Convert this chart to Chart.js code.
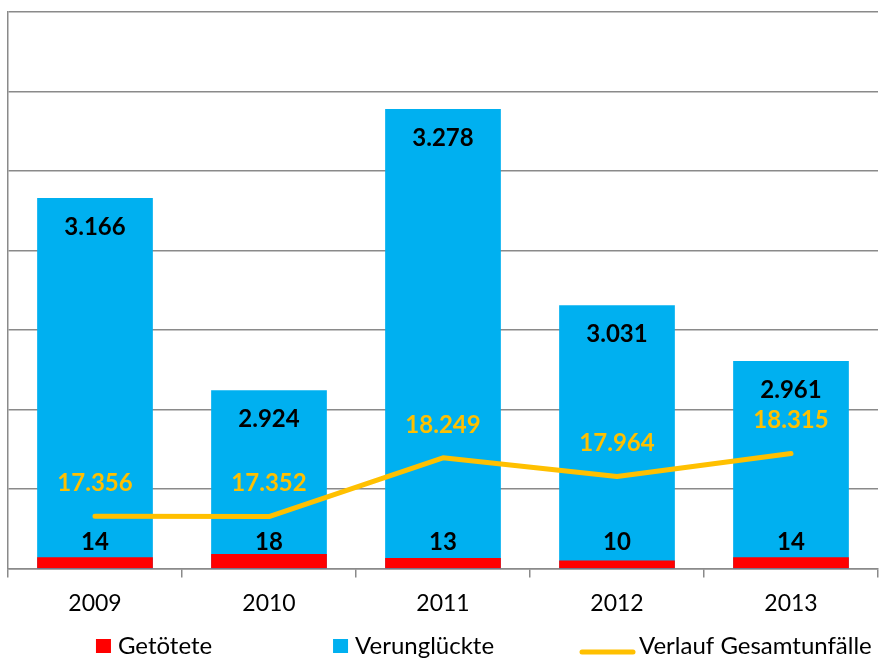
<!DOCTYPE html>
<html>
<head>
<meta charset="utf-8">
<script src="https://cdn.jsdelivr.net/npm/chart.js@4"></script>
<style>
  html, body { margin: 0; padding: 0; background: #fff; }
  #wrap { width: 882px; height: 661px; position: relative; }
</style>
</head>
<body>
<div id="wrap"><canvas id="c" width="882" height="661"></canvas></div>
<script>
const categories = ['2009', '2010', '2011', '2012', '2013'];
const getoetete = [14, 18, 13, 10, 14];
const verunglueckte = [3166, 2924, 3278, 3031, 2961];
const gesamtunfaelle = [17356, 17352, 18249, 17964, 18315];
const seriesNames = ['Getötete', 'Verunglückte', 'Verlauf Gesamtunfälle'];

const RED = '#FF0000', BLUE = '#00B0F0', GOLD = '#FFC000', GRID = '#8a8a8a';

function fmt(n) {
  return String(n).replace(/\B(?=(\d{3})+(?!\d))/g, '.');
}

const labelPlugin = {
  id: 'valueLabels',
  afterDatasetsDraw(chart) {
    const ctx = chart.ctx;
    ctx.save();
    ctx.textAlign = 'center';
    ctx.textBaseline = 'middle';
    ctx.font = 'bold 24px Lato';
    const mb = chart.getDatasetMeta(1);
    ctx.fillStyle = '#000';
    mb.data.forEach((el, i) => ctx.fillText(fmt(verunglueckte[i]), el.x, el.y + 29));
    const mr = chart.getDatasetMeta(0);
    mr.data.forEach((el, i) => ctx.fillText(fmt(getoetete[i]), el.x, el.base - 26));
    const ml = chart.getDatasetMeta(2);
    ctx.fillStyle = GOLD;
    ml.data.forEach((el, i) => ctx.fillText(fmt(gesamtunfaelle[i]), el.x, el.y - 33));
    ctx.restore();
  }
};

const legendPlugin = {
  id: 'customLegend',
  afterDraw(chart) {
    const ctx = chart.ctx;
    const W = chart.width;
    ctx.save();
    ctx.font = '24px Lato';
    ctx.textBaseline = 'middle';
    ctx.textAlign = 'left';
    const y = 646;
    let x = W * 0.1088;
    ctx.fillStyle = RED;
    ctx.fillRect(x, y - 7, 15, 14);
    ctx.fillStyle = '#000';
    ctx.fillText(seriesNames[0], x + 22, y);
    x = W * 0.3776;
    ctx.fillStyle = BLUE;
    ctx.fillRect(x, y - 7, 15, 14);
    ctx.fillStyle = '#000';
    ctx.fillText(seriesNames[1], x + 22, y);
    x = W * 0.6576;
    ctx.strokeStyle = GOLD;
    ctx.lineWidth = 5;
    ctx.lineCap = 'round';
    ctx.beginPath();
    ctx.moveTo(x + 2, y + 6);
    ctx.lineTo(x + 53, y + 6);
    ctx.stroke();
    ctx.fillStyle = '#000';
    ctx.fillText(seriesNames[2], x + 59, y);
    ctx.restore();
  }
};

new Chart(document.getElementById('c'), {
  type: 'bar',
  data: {
    labels: categories,
    datasets: [
      {
        label: seriesNames[0],
        data: getoetete,
        backgroundColor: RED,
        yAxisID: 'yR',
        grouped: false,
        order: 1,
        clip: 0,
        barPercentage: 1,
        categoryPercentage: 0.665
      },
      {
        label: seriesNames[1],
        data: verunglueckte,
        backgroundColor: BLUE,
        yAxisID: 'y',
        grouped: false,
        order: 2,
        clip: 0,
        barPercentage: 1,
        categoryPercentage: 0.665
      },
      {
        type: 'line',
        label: seriesNames[2],
        data: gesamtunfaelle,
        borderColor: GOLD,
        backgroundColor: GOLD,
        borderWidth: 5,
        borderCapStyle: 'round',
        borderJoinStyle: 'round',
        pointRadius: 0,
        tension: 0,
        yAxisID: 'yL',
        order: 0
      }
    ]
  },
  options: {
    responsive: false,
    animation: false,
    layout: { padding: { left: 8, right: 4, top: 12, bottom: 32 } },
    plugins: {
      legend: { display: false },
      tooltip: { enabled: false }
    },
    scales: {
      x: {
        grid: {
          display: true,
          drawOnChartArea: false,
          drawTicks: true,
          tickLength: 9,
          color: GRID,
          lineWidth: 1.5,
          offset: true
        },
        border: { display: true, color: GRID, width: 1.5 },
        ticks: {
          color: '#000',
          font: { family: 'Lato', size: 23 },
          padding: 12
        }
      },
      y: {
        position: 'left',
        min: 2700,
        max: 3400,
        ticks: { display: false, stepSize: 100 },
        grid: { color: GRID, lineWidth: 1.5, drawTicks: false },
        border: { display: true, color: GRID, width: 1.5 }
      },
      yR: {
        display: false,
        min: 0,
        max: 700
      },
      yL: {
        display: false,
        min: 16560,
        max: 25060
      }
    }
  },
  plugins: [labelPlugin, legendPlugin]
});
</script>
</body>
</html>
